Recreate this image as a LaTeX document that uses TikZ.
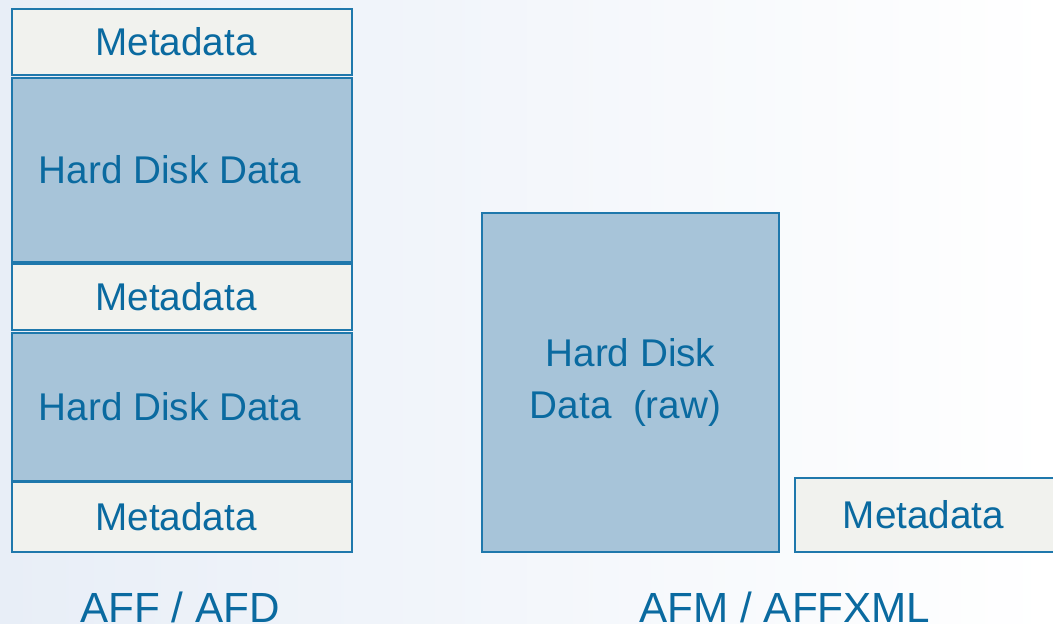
\documentclass[tikz,border=0pt]{standalone}
\usepackage{fontspec}
\setmainfont{Liberation Sans}
\usetikzlibrary{positioning}

\definecolor{metafill}{RGB}{241,242,238}
\definecolor{datafill}{RGB}{167,196,217}
\definecolor{edgeblue}{RGB}{31,120,172}
\definecolor{textblue}{RGB}{10,106,160}
\definecolor{bgblue}{RGB}{232,238,247}

\tikzset{
  metabox/.style={draw=edgeblue, fill=metafill, line width=0.45pt, text=textblue,
    minimum width=3.4cm, inner sep=0pt, font=\fontsize{11}{15}\selectfont},
  databox/.style={metabox, fill=datafill, align=center},
  caption/.style={text=textblue, anchor=base, font=\fontsize{12}{14}\selectfont}
}

\begin{document}
\begin{tikzpicture}[scale=1]

\shade [left color=bgblue, right color=white] (0,0) rectangle (10.53,6.24);
\useasboundingbox (0,0) rectangle (10.53,6.24);

% AFF / AFD
\node [metabox, minimum height=0.66cm] (meta1) at (1.82,5.82) {\hspace*{-0.12cm}Metadata};
\node [databox, minimum height=1.84cm] (disk1) at (1.82,4.54) {\hspace*{-0.24cm}Hard Disk Data};
\node [metabox, minimum height=0.66cm] (meta2) at (1.82,3.27) {\hspace*{-0.12cm}Metadata};
\node [databox, minimum height=1.48cm] (disk2) at (1.82,2.17) {\hspace*{-0.24cm}Hard Disk Data};
\node [metabox, minimum height=0.70cm] (meta3) at (1.82,1.07) {\hspace*{-0.12cm}Metadata};
\node [caption] (aff) at (1.80,0.01) {AFF / AFD};

% AFM / AFFXML
\node [databox, minimum width=2.97cm, minimum height=3.39cm] (raw) at (6.305,2.415)
  {Hard Disk\\Data\ \ (raw)\hspace*{0.1cm}};
\node [metabox, minimum width=2.65cm, minimum height=0.74cm] (meta4) at (9.275,1.09) {\hspace*{-0.08cm}Metadata};
\node [caption] (afm) at (7.85,0.01) {AFM / AFFXML};

\end{tikzpicture}
\end{document}
